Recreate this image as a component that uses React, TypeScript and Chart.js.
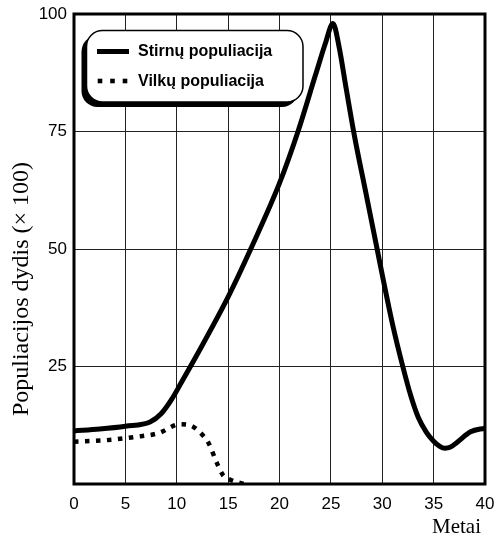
import React, { useEffect, useRef } from "react";
import { Chart, registerables } from "chart.js";

Chart.register(...registerables);

// Years (x) and population (× 100)
const deerYears = [0, 2.5, 5, 7.4, 8.5, 9.5, 10.5, 12, 15, 17.2, 20, 21.8, 23.5, 24.5, 25.2, 25.8, 26.5, 27.3, 28.4, 29.5, 30, 31, 32, 32.8, 33.5, 34.3, 35, 35.6, 36.1, 36.6, 37.3, 38.6, 40];
const deerValues = [11.3, 11.7, 12.3, 13.2, 15, 18, 21.8, 27.6, 39.8, 50, 64, 75, 87, 94, 98, 93, 84, 74, 62, 50, 44.5, 34, 25, 18.6, 14.2, 11, 9.1, 8, 7.6, 7.8, 8.9, 11.1, 11.9];

const wolfYears = [0, 3, 5.9, 8.2, 10.3, 11.4, 12.3, 13.1, 13.9, 14.5, 15.2, 16.5];
const wolfValues = [9.0, 9.3, 10.0, 10.8, 12.7, 12.4, 10.9, 8.7, 4.5, 1.9, 0.9, 0];

const legendLabels = ["Stirnų populiacija", "Vilkų populiacija"];
const yTitle = "Populiacijos dydis (× 100)";
const xTitle = "Metai";
const xTicks = [0, 5, 10, 15, 20, 25, 30, 35, 40];
const yTicks = [25, 50, 75, 100];

const decorPlugin = {
  id: "decor",
  afterDraw(chart: any) {
    const { ctx, chartArea } = chart;
    const { left, right, top, bottom } = chartArea;
    ctx.save();
    // frame
    ctx.strokeStyle = "#000";
    ctx.lineWidth = 3;
    ctx.strokeRect(left, top, right - left, bottom - top);

    // legend box with shadow
    const bx = 86.5, by = 30.5, bw = 216.5, bh = 71.5, r = 16;
    ctx.fillStyle = "#000";
    ctx.beginPath();
    ctx.roundRect(bx - 5, by + 5, bw, bh, r);
    ctx.fill();
    ctx.fillStyle = "#fff";
    ctx.beginPath();
    ctx.roundRect(bx, by, bw, bh, r);
    ctx.fill();
    ctx.lineWidth = 1.5;
    ctx.stroke();

    ctx.lineWidth = 5;
    ctx.beginPath();
    ctx.moveTo(97, 51.5);
    ctx.lineTo(129, 51.5);
    ctx.stroke();
    ctx.fillStyle = "#000";
    [100, 112.5, 125].forEach((cx) => ctx.fillRect(cx - 2.3, 81 - 2.3, 4.6, 4.6));

    ctx.font = 'bold 16px "Liberation Sans", Arial, sans-serif';
    ctx.textAlign = "left";
    ctx.textBaseline = "alphabetic";
    ctx.fillText(legendLabels[0], 138, 55.5);
    ctx.fillText(legendLabels[1], 138, 85.5);

    // y title
    ctx.save();
    ctx.translate(28, 289);
    ctx.rotate(-Math.PI / 2);
    ctx.font = '24px "Liberation Serif", "Times New Roman", serif';
    ctx.textAlign = "center";
    ctx.textBaseline = "alphabetic";
    ctx.fillText(yTitle, 0, 0);
    ctx.restore();

    // x title
    ctx.font = '21px "Liberation Serif", "Times New Roman", serif';
    ctx.textAlign = "right";
    ctx.textBaseline = "alphabetic";
    ctx.fillText(xTitle, 481, 533);
    ctx.restore();
  },
};

export default function App() {
  const ref = useRef<HTMLCanvasElement>(null);
  useEffect(() => {
    document.body.style.margin = "0";
    const canvas = ref.current!;
    const tickFont = { family: '"Liberation Sans", Arial, sans-serif', size: 17 };
    const chart = new Chart(canvas, {
      type: "line",
      data: {
        datasets: [
          {
            label: legendLabels[0],
            data: deerYears.map((x, i) => ({ x, y: deerValues[i] })),
            borderColor: "#000",
            borderWidth: 5,
            pointRadius: 0,
            cubicInterpolationMode: "monotone",
            fill: false,
          },
          {
            label: legendLabels[1],
            data: wolfYears.map((x, i) => ({ x, y: wolfValues[i] })),
            borderColor: "#000",
            borderWidth: 4.5,
            borderDash: [4.5, 6.5],
            borderCapStyle: "butt",
            pointRadius: 0,
            cubicInterpolationMode: "monotone",
            fill: false,
          },
        ],
      },
      options: {
        responsive: false,
        animation: false,
        devicePixelRatio: 1,
        layout: { padding: { top: 14, right: 12, left: 0, bottom: 0 } },
        plugins: { legend: { display: false }, tooltip: { enabled: false } },
        scales: {
          x: {
            type: "linear",
            min: 0,
            max: 40,
            afterBuildTicks: (s: any) => { s.ticks = xTicks.map((v) => ({ value: v })); },
            afterFit: (s: any) => { s.height = 53; s.paddingLeft = 0; s.paddingRight = 0; },
            ticks: { color: "#000", font: tickFont, padding: 10, maxRotation: 0 },
            grid: { color: "#222", lineWidth: 1, drawTicks: false },
            border: { display: false },
          },
          y: {
            min: 0,
            max: 100,
            afterBuildTicks: (s: any) => { s.ticks = [0, ...yTicks].map((v) => ({ value: v })); },
            afterFit: (s: any) => { s.width = 74; s.paddingTop = 0; s.paddingBottom = 0; },
            ticks: {
              color: "#000",
              font: tickFont,
              padding: 7,
              callback: (v: any) => (v === 0 ? "" : String(v)),
            },
            grid: { color: "#222", lineWidth: 1, drawTicks: false },
            border: { display: false },
          },
        },
      },
      plugins: [decorPlugin],
    } as any);
    return () => chart.destroy();
  }, []);
  return (
    <div style={{ width: 497, height: 537 }}>
      <canvas ref={ref} width={497} height={537} />
    </div>
  );
}
